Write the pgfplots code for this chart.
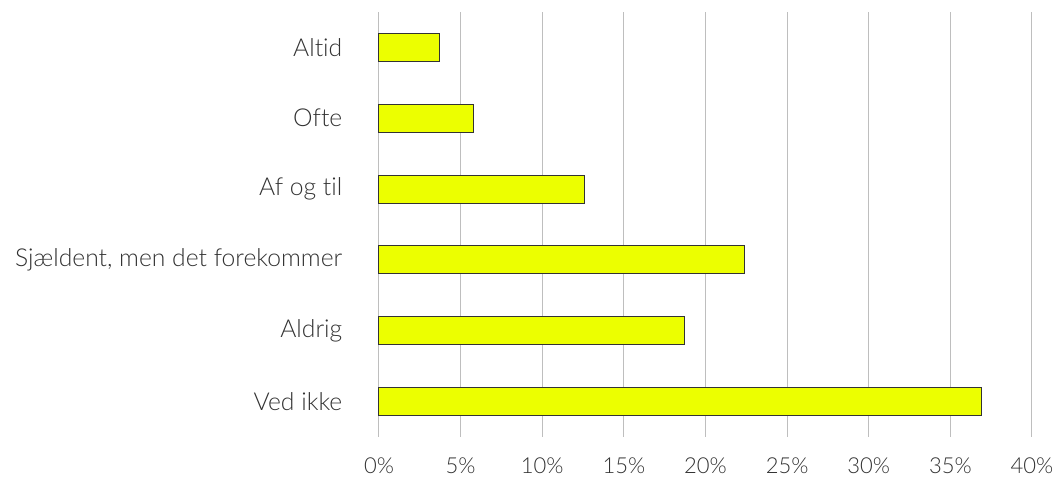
\documentclass[border=0pt]{standalone}
\usepackage{pgfplots}
\pgfplotsset{compat=1.18}
\usepackage{fontspec}
\setmainfont{Lato Light}[Ligatures=NoCommon]
\definecolor{barfill}{RGB}{236,255,0}
\definecolor{txt}{RGB}{50,50,50}
\definecolor{gridc}{RGB}{190,190,190}
\begin{document}
\begin{tikzpicture}
\path[use as bounding box] (-284.25pt,-30pt) rectangle (506.25pt,327.75pt);
\begin{axis}[
  at={(0,0)}, anchor=south west,
  scale only axis,
  width=489.75pt, height=318.75pt,
  xbar, bar width=21pt,
  xmin=0, xmax=40,
  ymin=-0.5, ymax=5.5,
  xtick={0,5,...,40},
  ytick={0,1,2,3,4,5},
  yticklabels={Ved ikke, Aldrig, {Sjældent, men det forekommer}, Af og til, Ofte, Altid},
  xticklabel={\pgfmathprintnumber{\tick}\%},
  /pgf/number format/assume math mode=true,
  axis line style={draw=none},
  major tick length=0pt,
  xmajorgrids, grid style={gridc, line width=0.75pt},
  yticklabel style={font=\fontsize{18.5}{22}\selectfont, text=txt, xshift=-24pt},
  xticklabel style={font=\fontsize{16.5}{20}\selectfont, text=txt, yshift=-12pt},
  clip=false,
]
\addplot[fill=barfill, draw=black!80, line width=0.75pt] coordinates {
  (36.9,0) (18.7,1) (22.4,2) (12.6,3) (5.8,4) (3.7,5)
};
\end{axis}
\end{tikzpicture}
\end{document}
